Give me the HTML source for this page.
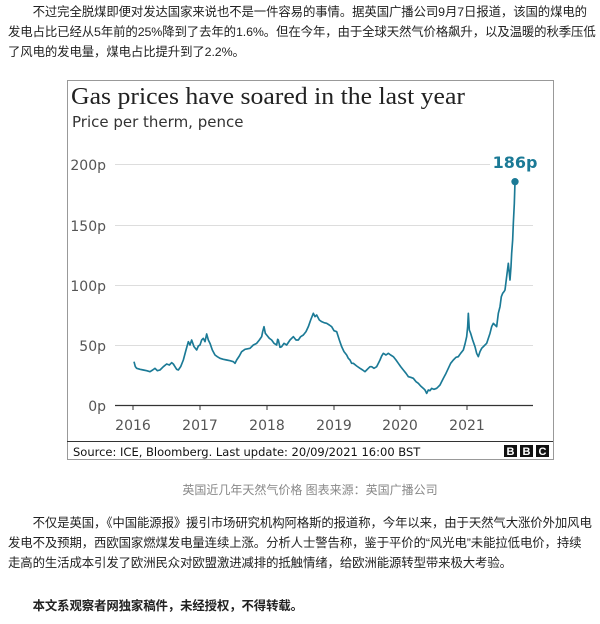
<!DOCTYPE html>
<html><head><meta charset="utf-8"><style>
body{margin:0;width:600px;height:624px;background:#fff;font-family:"Liberation Sans","Noto Sans CJK SC",sans-serif;color:#222;overflow:hidden;position:relative}
.p{position:absolute;left:8px;width:592px;font-size:12.4px;line-height:20px;letter-spacing:-0.1px;white-space:nowrap}
</style></head><body>
<div class="p" style="top:2px">&emsp;&emsp;不过完全脱煤即便对发达国家来说也不是一件容易的事情。据英国广播公司9月7日报道，该国的煤电的<br>发电占比已经从5年前的25%降到了去年的1.6%。但在今年，由于全球天然气价格飙升，以及温暖的秋季压低<br>了风电的发电量，煤电占比提升到了2.2%。</div>
<svg style="position:absolute;left:0;top:0" width="600" height="624">
<rect x="67.5" y="80.5" width="486" height="379" fill="#fff" stroke="#999"/>
<text x="71" y="104" font-family="Liberation Serif,serif" font-size="24" fill="#222" textLength="394" lengthAdjust="spacingAndGlyphs">Gas prices have soared in the last year</text>
<text x="72" y="127" font-family="DejaVu Sans,sans-serif" font-size="15" fill="#333">Price per therm, pence</text>
<g stroke="#ddd" stroke-width="1"><line x1="115" x2="490" y1="164.5" y2="164.5"/><line x1="115" x2="533" y1="225.5" y2="225.5"/><line x1="115" x2="533" y1="285.5" y2="285.5"/><line x1="115" x2="533" y1="345.5" y2="345.5"/></g>
<line x1="115" x2="533" y1="405.5" y2="405.5" stroke="#333" stroke-width="1.2"/>
<g font-family="DejaVu Sans,sans-serif" font-size="14" fill="#555" text-anchor="end"><text x="106" y="170">200p</text><text x="106" y="231">150p</text><text x="106" y="291">100p</text><text x="106" y="351">50p</text><text x="106" y="411">0p</text></g>
<g stroke="#333"><line x1="133" x2="133" y1="405" y2="410"/><line x1="200" x2="200" y1="405" y2="410"/><line x1="267" x2="267" y1="405" y2="410"/><line x1="334" x2="334" y1="405" y2="410"/><line x1="400" x2="400" y1="405" y2="410"/><line x1="467" x2="467" y1="405" y2="410"/></g>
<g font-family="DejaVu Sans,sans-serif" font-size="14" fill="#555" text-anchor="middle"><text x="133" y="430">2016</text><text x="200" y="430">2017</text><text x="267" y="430">2018</text><text x="334" y="430">2019</text><text x="400" y="430">2020</text><text x="467" y="430">2021</text></g>
<g transform="translate(60,140) scale(0.33333)">
<polyline fill="none" stroke="#1b7a96" stroke-width="5" stroke-linejoin="round" points="222,665 226,680 230,685 240,688 250,690 260,692 270,695 278,690 285,685 292,692 300,690 310,680 320,672 328,675 335,668 340,672 345,680 350,688 355,690 362,680 370,660 378,630 385,605 390,615 395,600 402,620 410,630 415,618 420,615 425,600 430,595 435,605 440,582 445,600 450,610 457,630 465,645 472,650 480,655 490,658 500,660 510,662 520,665 525,670 530,660 538,648 545,635 555,628 570,625 580,615 590,610 598,600 605,590 608,575 612,560 616,580 620,585 628,595 635,600 642,610 650,615 653,598 655,600 660,622 665,620 672,610 680,615 690,600 700,590 708,600 715,600 722,590 730,585 738,575 745,560 752,540 760,520 765,530 770,525 778,540 785,545 792,548 800,550 808,555 815,560 822,572 830,575 838,600 845,620 852,635 860,645 865,655 870,660 875,670 880,670 890,678 900,685 908,690 915,695 920,690 925,685 930,680 935,680 942,685 950,680 955,670 960,660 965,648 970,640 978,645 985,640 992,645 1000,650 1008,660 1015,670 1022,680 1030,690 1038,700 1045,710 1052,712 1060,715 1068,725 1075,730 1082,738 1090,745 1095,750 1100,760 1105,750 1110,752 1115,745 1122,748 1130,745 1135,740 1140,735 1145,725 1150,715 1158,700 1165,685 1172,670 1180,660 1188,652 1195,650 1202,640 1210,630 1215,612 1220,590 1223,560 1225,520 1228,570 1232,580 1238,600 1245,620 1250,640 1255,650 1260,635 1265,625 1272,618 1280,610 1285,595 1290,580 1295,560 1300,550 1305,555 1310,560 1315,520 1320,500 1324,470 1328,460 1332,455 1335,450 1340,410 1345,370 1348,400 1350,420 1353,380 1355,340 1358,300 1360,250 1363,190 1365,125"/>
<circle cx="1365" cy="125" r="11" fill="#1b7a96"/>
</g>
<text x="515" y="168" text-anchor="middle" font-family="DejaVu Sans,sans-serif" font-weight="bold" font-size="16" fill="#1b7a96">186p</text>
<line x1="67" x2="553" y1="441.5" y2="441.5" stroke="#333"/>
<text x="73" y="456" font-family="DejaVu Sans,sans-serif" font-size="11.5" fill="#111">Source: ICE, Bloomberg. Last update: 20/09/2021 16:00 BST</text>
<g font-family="Liberation Sans,sans-serif" font-weight="bold" font-size="11" fill="#fff" text-anchor="middle">
<rect x="504" y="445" width="13" height="12" fill="#111"/><text x="510.5" y="455">B</text>
<rect x="520" y="445" width="13" height="12" fill="#111"/><text x="526.5" y="455">B</text>
<rect x="536" y="445" width="13" height="12" fill="#111"/><text x="542.5" y="455">C</text></g>
<text x="310" y="494" text-anchor="middle" font-family="Liberation Sans,Noto Sans CJK SC,sans-serif" font-size="12" fill="#888">英国近几年天然气价格 图表来源：英国广播公司</text>
</svg>
<div class="p" style="top:513px">&emsp;&emsp;不仅是英国，《中国能源报》援引市场研究机构阿格斯的报道称，今年以来，由于天然气大涨价外加风电<br>发电不及预期，西欧国家燃煤发电量连续上涨。分析人士警告称，鉴于平价的“风光电”未能拉低电价，持续<br>走高的生活成本引发了欧洲民众对欧盟激进减排的抵触情绪，给欧洲能源转型带来极大考验。</div>
<div class="p" style="top:596px;font-weight:bold">&emsp;&emsp;本文系观察者网独家稿件，未经授权，不得转载。</div>
</body></html>
